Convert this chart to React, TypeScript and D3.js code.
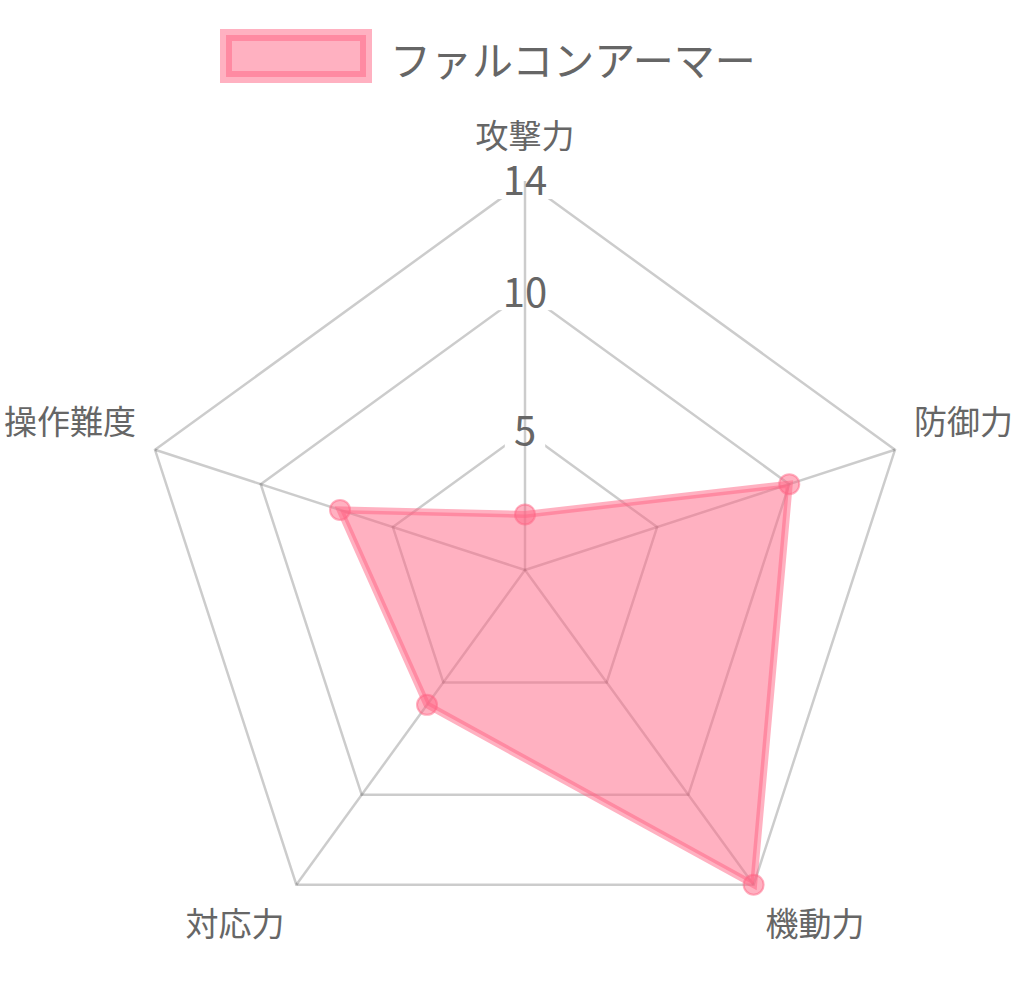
import React, { useEffect, useRef } from 'react';
import * as d3 from 'd3';

// axis labels clockwise from the top
const axes = ['攻撃力', '防御力', '機動力', '対応力', '操作難度'];
const seriesName = 'ファルコンアーマー';
const values = [2, 10, 14, 6, 7];
const tickValues = [5, 10, 14];
const maxValue = 14;

const W = 1024;
const H = 1000;
const PINK = 'rgba(255,99,132,0.5)';
const FONT = '"Noto Sans CJK JP", "Noto Sans", sans-serif';

const App: React.FC = () => {
  const svgRef = useRef<SVGSVGElement>(null);

  useEffect(() => {
    if (!svgRef.current) return;
    const svg = d3.select(svgRef.current);
    svg.selectAll('*').remove();

    const cx = 525;
    const cy = 570;
    const R = 389;
    const r = d3.scaleLinear().domain([0, maxValue]).range([0, R]);
    const angle = (i: number) => -Math.PI / 2 + (i * 2 * Math.PI) / axes.length;
    const polar = (i: number, rad: number): [number, number] => [
      cx + rad * Math.cos(angle(i)),
      cy + rad * Math.sin(angle(i)),
    ];

    const g = svg.append('g');

    // rings
    tickValues.forEach(t => {
      g.append('polygon')
        .attr('points', axes.map((_, i) => polar(i, r(t)).join(',')).join(' '))
        .attr('fill', 'none')
        .attr('stroke', 'rgba(0,0,0,0.2)')
        .attr('stroke-width', 2.5);
    });

    // tick backdrops
    const tickFs = 40;
    tickValues.forEach(t => {
      const w = String(t).length * tickFs * 0.56 + 18;
      g.append('rect')
        .attr('x', cx - w / 2)
        .attr('y', cy - r(t) - tickFs * 0.45)
        .attr('width', w)
        .attr('height', tickFs * 0.9)
        .attr('fill', '#fff');
    });

    // spokes
    axes.forEach((_, i) => {
      const [x, y] = polar(i, R);
      g.append('line')
        .attr('x1', cx).attr('y1', cy)
        .attr('x2', x).attr('y2', y)
        .attr('stroke', 'rgba(0,0,0,0.2)')
        .attr('stroke-width', 2.5);
    });

    // tick labels
    tickValues.forEach(t => {
      g.append('text')
        .attr('x', cx)
        .attr('y', cy - r(t))
        .attr('dy', '0.36em')
        .attr('text-anchor', 'middle')
        .attr('font-family', FONT)
        .attr('font-size', tickFs)
        .attr('fill', '#666')
        .text(t);
    });

    // point labels
    axes.forEach((label, i) => {
      const [x, y] = polar(i, R + 20);
      const c = Math.cos(angle(i));
      const s = Math.sin(angle(i));
      const anchor = c > 0.1 ? 'start' : c < -0.1 ? 'end' : 'middle';
      const dy = s < -0.9 ? -27 : s < 0 ? -24 : 21;
      g.append('text')
        .attr('x', x)
        .attr('y', y + dy)
        .attr('dominant-baseline', 'central')
        .attr('text-anchor', anchor)
        .attr('font-family', FONT)
        .attr('font-size', 33)
        .attr('fill', '#666')
        .text(label);
    });

    // dataset
    const line = d3.lineRadial<number>()
      .angle((_, i) => (i * 2 * Math.PI) / axes.length)
      .radius(d => r(d))
      .curve(d3.curveLinearClosed);

    g.append('path')
      .attr('transform', `translate(${cx},${cy})`)
      .attr('d', line(values))
      .attr('fill', PINK)
      .attr('stroke', PINK)
      .attr('stroke-width', 7)
      .attr('stroke-linejoin', 'miter');

    g.selectAll('circle.pt')
      .data(values)
      .enter()
      .append('circle')
      .attr('class', 'pt')
      .attr('cx', (d, i) => polar(i, r(d))[0])
      .attr('cy', (d, i) => polar(i, r(d))[1])
      .attr('r', 10)
      .attr('fill', PINK)
      .attr('stroke', PINK)
      .attr('stroke-width', 2);

    // legend
    g.append('rect')
      .attr('x', 226).attr('y', 35)
      .attr('width', 140).attr('height', 42)
      .attr('fill', PINK)
      .attr('stroke', PINK)
      .attr('stroke-width', 12);

    g.append('text')
      .attr('x', 390)
      .attr('y', 58)
      .attr('dominant-baseline', 'central')
      .attr('font-family', FONT)
      .attr('font-size', 41)
      .attr('fill', '#666')
      .text(seriesName);
  }, []);

  return (
    <svg
      ref={svgRef}
      width={W}
      height={H}
      style={{ position: 'absolute', left: 0, top: 0, background: '#fff' }}
    />
  );
};

export default App;
